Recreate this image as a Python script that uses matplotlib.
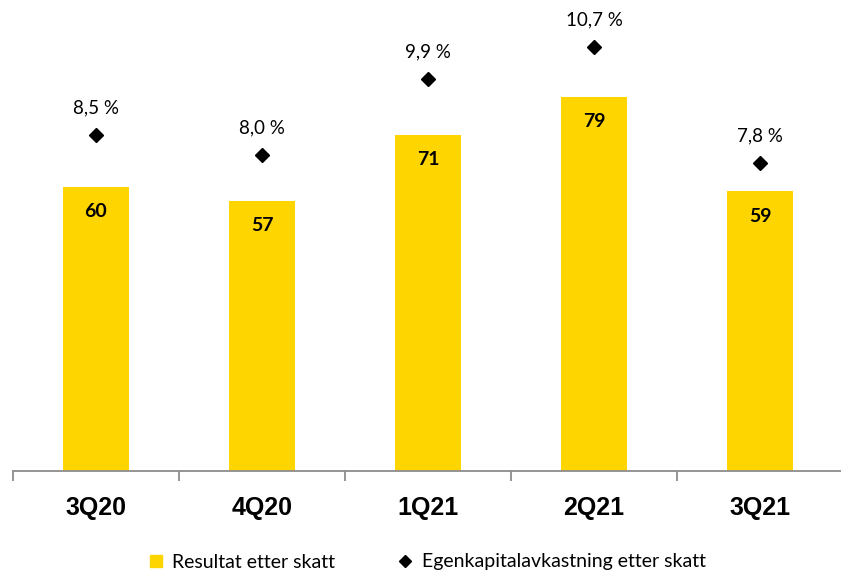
import numpy as np
import matplotlib
matplotlib.use("Agg")
import matplotlib.pyplot as plt
from matplotlib.lines import Line2D

quarters = ["3Q20", "4Q20", "1Q21", "2Q21", "3Q21"]
resultat = [60, 57, 71, 79, 59]
ek_avkastning = [8.5, 8.0, 9.9, 10.7, 7.8]
ek_labels = ["8,5 %", "8,0 %", "9,9 %", "10,7 %", "7,8 %"]

yellow = "#FFD500"
W, H = 841, 572
fig = plt.figure(figsize=(W / 100, H / 100), dpi=100)
ax = fig.add_axes([13 / W, 1 - 471 / H, 828 / W, 461 / H])

x = np.arange(len(quarters))
ax.bar(x, resultat, width=0.4, color=yellow, zorder=2)
for xi, v in zip(x, resultat):
    ax.annotate(str(v), (xi, v), xytext=(0, -25), textcoords="offset pixels",
                ha="center", va="center", fontsize=14, fontweight="bold",
                family="Lato")

ax.set_xlim(-0.5, 4.488)
ax.set_ylim(0, 97.3)
for s in ["top", "right", "left"]:
    ax.spines[s].set_visible(False)
ax.spines["bottom"].set_color("#8c8c8c")
ax.spines["bottom"].set_linewidth(1.3)
ax.set_yticks([])
# category labels at centres, tick marks at the boundaries
ax.set_xticks(x)
ax.set_xticklabels(quarters, fontsize=18, fontweight="bold", family="Liberation Sans")
ax.tick_params(axis="x", which="major", length=0, pad=18)
ax.set_xticks(np.arange(-0.5, 4.0, 1.0), minor=True)
ax.tick_params(axis="x", which="minor", length=7, width=1.3, color="#8c8c8c")

ax2 = ax.twinx()
ax2.set_ylim(0.14, 11.61)
ax2.plot(x, ek_avkastning, linestyle="none", marker="D", markersize=7,
         color="black", zorder=3)
for xi, v, lab in zip(x, ek_avkastning, ek_labels):
    ax2.annotate(lab, (xi, v), xytext=(0, 27), textcoords="offset pixels",
                 ha="center", va="center", fontsize=13.5, family="Lato")
for s in ax2.spines.values():
    s.set_visible(False)
ax2.set_yticks([])

handles = [
    Line2D([], [], linestyle="none", marker="s", markersize=9, color=yellow),
    Line2D([], [], linestyle="none", marker="D", markersize=6, color="black"),
]
fig.legend(handles, ["Resultat etter skatt", "Egenkapitalavkastning etter skatt"],
           loc="center", bbox_to_anchor=(427 / W, 1 - 562 / H), ncol=2,
           frameon=False, prop={"family": "Lato", "size": 14},
           handlelength=0.8, handletextpad=0.45, columnspacing=3.2)

fig.savefig("out.png", dpi=100)
